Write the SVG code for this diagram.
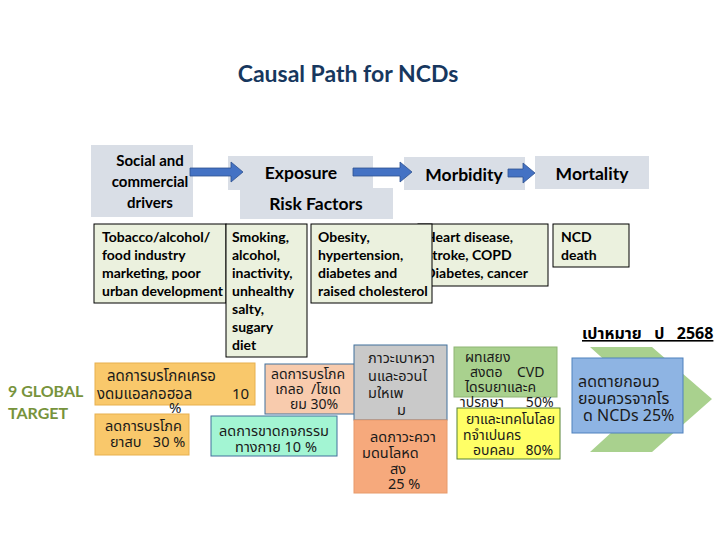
<svg xmlns="http://www.w3.org/2000/svg" width="720" height="540" viewBox="0 0 720 540">
<defs>
<style>
.hdr{fill:#D9DEE6}
.ht{font-family:Lato,"Open Sans","Liberation Sans",sans-serif;font-weight:bold;fill:#000}
.gb{fill:#EBF1DE;stroke:#000;stroke-width:1}
.gt{font-family:Lato,"Open Sans","Liberation Sans",sans-serif;font-weight:bold;font-size:14px;fill:#000}
.th{font-family:"Noto Sans Thai","Noto Sans","DejaVu Sans",sans-serif;fill:#1a1a1a;white-space:pre}
.arr{fill:#4472C4;stroke:#2F528F;stroke-width:0.8}
</style>
</defs>
<rect width="720" height="540" fill="#fff"/>
<text x="348" y="82" text-anchor="middle" font-family="Lato, Open Sans, Liberation Sans, sans-serif" font-weight="bold" font-size="23" fill="#17375E">Causal Path for NCDs</text>

<g id="header-social"><rect class="hdr" x="91" y="145" width="102" height="72"/>
<text class="ht" font-size="15" text-anchor="middle"><tspan x="150" y="166">Social and</tspan><tspan x="150" y="187">commercial</tspan><tspan x="150" y="208">drivers</tspan></text></g>
<g id="header-exposure"><rect class="hdr" x="228" y="156" width="145" height="34"/>
<text class="ht" font-size="17.5" x="301" y="179" text-anchor="middle">Exposure</text></g>
<g id="header-risk"><rect class="hdr" x="240" y="188" width="153" height="31"/>
<text class="ht" font-size="17.5" x="316" y="210" text-anchor="middle">Risk Factors</text></g>
<g id="header-morbidity"><rect class="hdr" x="404" y="157" width="121" height="33"/>
<text class="ht" font-size="17.5" x="464" y="181" text-anchor="middle">Morbidity</text></g>
<g id="header-mortality"><rect class="hdr" x="535" y="156" width="114" height="33"/>
<text class="ht" font-size="17.5" x="592" y="180" text-anchor="middle">Mortality</text></g>

<g id="connectors">
<path class="arr" d="M190,168 H231 V162 L243,172 L231,182 V176 H190 Z"/>
<path class="arr" d="M353,168 H400 V162 L412,172 L400,182 V176 H353 Z"/>
<path class="arr" d="M508,169 H523 V163 L535,173 L523,183 V177 H508 Z"/>
</g>

<g id="heart"><rect class="gb" x="418" y="224" width="130" height="62"/>
<text class="gt"><tspan x="425" y="242">Heart disease,</tspan><tspan x="425" y="260">Stroke, COPD</tspan><tspan x="425" y="278">Diabetes, cancer</tspan></text></g>
<g id="tobacco"><rect class="gb" x="94" y="224" width="132" height="79"/>
<text class="gt"><tspan x="102" y="242">Tobacco/alcohol/</tspan><tspan x="102" y="260">food industry</tspan><tspan x="102" y="278">marketing, poor</tspan><tspan x="102" y="296">urban development</tspan></text></g>
<g id="smoking"><rect class="gb" x="226" y="224" width="81" height="133"/>
<text class="gt"><tspan x="232" y="242">Smoking,</tspan><tspan x="232" y="260">alcohol,</tspan><tspan x="232" y="278">inactivity,</tspan><tspan x="232" y="296">unhealthy</tspan><tspan x="232" y="314">salty,</tspan><tspan x="232" y="332">sugary</tspan><tspan x="232" y="350">diet</tspan></text></g>
<g id="obesity"><rect class="gb" x="311" y="224" width="121" height="79"/>
<text class="gt"><tspan x="318" y="242">Obesity,</tspan><tspan x="318" y="260">hypertension,</tspan><tspan x="318" y="278">diabetes and</tspan><tspan x="318" y="296">raised cholesterol</tspan></text></g>
<g id="ncd-death"><rect class="gb" x="553" y="224" width="76" height="43"/>
<text class="gt"><tspan x="561" y="242">NCD</tspan><tspan x="561" y="260">death</tspan></text></g>

<g id="target-label"><text font-family="Lato, Open Sans, Liberation Sans, sans-serif" font-weight="bold" font-size="16" fill="#77933C"><tspan x="8" y="397">9 GLOBAL</tspan><tspan x="8" y="419">TARGET</tspan></text></g>

<g id="goal-title"><text x="582" y="339" xml:space="preserve" font-family="Noto Sans Thai, Noto Sans, DejaVu Sans, sans-serif" font-weight="bold" font-size="16" fill="#000" text-decoration="underline" style="white-space:pre">เปาหมาย   ป   2568</text></g>

<g id="chevron"><path d="M590,347 H652 L712,399 L652,452 H590 L648,399 Z" fill="#A9D18E"/></g>
<g id="goal-box"><rect x="572" y="358" width="111" height="75" fill="#8EB4E3" stroke="#4F81BD"/>
<text class="th" style="font-size:16px"><tspan x="578" y="387">ลดตายกอนว</tspan><tspan x="578" y="404">ยอนควรจากโร</tspan><tspan x="583" y="421">ด NCDs 25%</tspan></text></g>

<g id="t-alcohol"><rect x="95" y="363" width="160" height="42" fill="#F9C86B" stroke="#E7B04F"/>
<text class="th" style="font-size:15px"><tspan x="107" y="381">ลดการบรโภคเครอ</tspan><tspan x="97" y="399">งดมแอลกอฮอล</tspan><tspan x="232" y="399">10</tspan><tspan x="169" y="413">%</tspan></text></g>
<g id="t-tobacco"><rect x="95" y="414" width="94" height="41" fill="#F9C86B" stroke="#E7B04F"/>
<text class="th" style="font-size:14.5px" xml:space="preserve"><tspan x="105" y="431">ลดการบรโภค</tspan><tspan x="110" y="447">ยาสบ   30 %</tspan></text></g>
<g id="t-salt"><rect x="265" y="364" width="90" height="50" fill="#F8CBAD" stroke="#41719C"/>
<text class="th" style="font-size:14px" text-anchor="middle" xml:space="preserve"><tspan x="308" y="379">ลดการบรโภค</tspan><tspan x="308" y="394">เกลอ  /โซเด</tspan><tspan x="314" y="409">ยม 30%</tspan></text></g>
<g id="t-activity"><rect x="211" y="416" width="126" height="40" fill="#A3F5D3" stroke="#41719C"/>
<text class="th" style="font-size:14.5px" text-anchor="middle"><tspan x="274" y="436">ลดการขาดกจกรรม</tspan><tspan x="276" y="452">ทางกาย 10 %</tspan></text></g>
<g id="t-diabetes"><rect x="354" y="345" width="93" height="75" fill="#C9C9C9" stroke="#41719C"/>
<text class="th" style="font-size:14.5px"><tspan x="368" y="363">ภาวะเบาหวา</tspan><tspan x="368" y="381">นและอวนไ</tspan><tspan x="368" y="398">มใหเพ</tspan><tspan x="397" y="415">ม</tspan></text></g>
<g id="t-bp"><rect x="354" y="420" width="93" height="73" fill="#F6A97C" stroke="#E89A6A"/>
<text class="th" style="font-size:14.5px"><tspan x="370" y="442">ลดภาวะควา</tspan><tspan x="362" y="458">มดนโลหด</tspan><tspan x="390" y="474">สง</tspan><tspan x="388" y="489">25 %</tspan></text></g>
<g id="t-cvd"><rect x="454" y="347" width="103" height="50" fill="#A9D18E" stroke="#8FB574"/>
<text class="th" style="font-size:14px" xml:space="preserve"><tspan x="465" y="362">ผทเสยง</tspan><tspan x="470" y="377">สงตอ    CVD</tspan><tspan x="465" y="392">ไดรบยาและค</tspan><tspan x="460" y="407">าปรกษา      50%</tspan></text></g>
<g id="t-tech"><rect x="457" y="408" width="103" height="51" fill="#FFFF66" stroke="#548235"/>
<text class="th" style="font-size:14px" xml:space="preserve"><tspan x="466" y="424">ยาและเทคโนโลย</tspan><tspan x="463" y="440">ทจำเปนคร</tspan><tspan x="473" y="455">อบคลม   80%</tspan></text></g>
</svg>
